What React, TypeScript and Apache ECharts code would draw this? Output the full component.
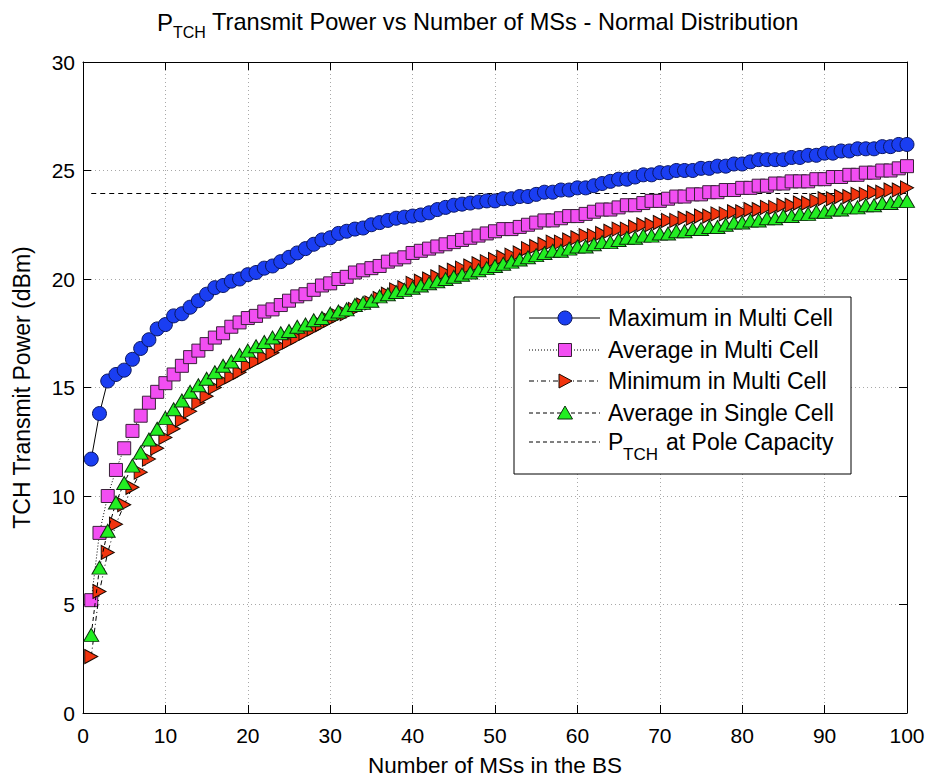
import React, { useEffect, useRef } from "react";
import * as echarts from "echarts";

const FONT = "'Liberation Sans', Arial, Helvetica, sans-serif";

// Number of MSs in the BS (x positions)
const msCounts: number[] = Array.from({ length: 100 }, (_, i) => i + 1);

const xTicks = { min: 0, max: 100, interval: 10 };
const yTicks = { min: 0, max: 30, interval: 5 };

const maxMulti: number[] = [
  11.7, 13.8, 15.3, 15.6, 15.8, 16.3, 16.8, 17.2, 17.7, 17.9,
  18.3, 18.4, 18.7, 19.0, 19.3, 19.6, 19.7, 19.9, 20.0, 20.2,
  20.3, 20.5, 20.6, 20.8, 21.0, 21.2, 21.4, 21.6, 21.8, 21.9,
  22.1, 22.2, 22.3, 22.35, 22.5, 22.6, 22.7, 22.8, 22.85, 22.9,
  22.95, 23.05, 23.2, 23.3, 23.4, 23.45, 23.5, 23.55, 23.6, 23.6,
  23.7, 23.7, 23.8, 23.8, 23.9, 24.0, 24.0, 24.1, 24.1, 24.2,
  24.2, 24.3, 24.4, 24.5, 24.6, 24.6, 24.7, 24.8, 24.8, 24.9,
  24.9, 25.0, 25.0, 25.0, 25.1, 25.1, 25.2, 25.2, 25.3, 25.3,
  25.4, 25.5, 25.5, 25.5, 25.5, 25.6, 25.6, 25.7, 25.7, 25.8,
  25.8, 25.9, 25.9, 26.0, 26.0, 26.0, 26.1, 26.1, 26.2, 26.2,
];

const avgMulti: number[] = [
  5.2, 8.3, 10.0, 11.2, 12.2, 13.0, 13.7, 14.3, 14.8, 15.2,
  15.6, 16.0, 16.4, 16.7, 17.0, 17.3, 17.5, 17.8, 18.0, 18.2,
  18.3, 18.5, 18.6, 18.8, 19.0, 19.2, 19.3, 19.5, 19.7, 19.8,
  20.0, 20.1, 20.3, 20.4, 20.5, 20.6, 20.8, 20.9, 21.0, 21.2,
  21.3, 21.4, 21.5, 21.6, 21.7, 21.8, 21.9, 22.0, 22.1, 22.2,
  22.3, 22.3, 22.4, 22.5, 22.6, 22.7, 22.7, 22.8, 22.9, 22.9,
  23.0, 23.1, 23.2, 23.2, 23.3, 23.4, 23.4, 23.5, 23.6, 23.6,
  23.7, 23.8, 23.8, 23.9, 23.9, 24.0, 24.0, 24.1, 24.1, 24.2,
  24.2, 24.3, 24.3, 24.4, 24.4, 24.5, 24.5, 24.5, 24.6, 24.6,
  24.7, 24.7, 24.8, 24.8, 24.9, 24.9, 25.0, 25.0, 25.1, 25.2,
];

const minMulti: number[] = [
  2.6, 5.6, 7.4, 8.7, 9.6, 10.4, 11.1, 11.7, 12.2, 12.7,
  13.1, 13.5, 13.9, 14.3, 14.6, 15.0, 15.3, 15.5, 15.7, 16.0,
  16.2, 16.4, 16.6, 16.9, 17.1, 17.3, 17.5, 17.7, 17.9, 18.1,
  18.3, 18.4, 18.6, 18.8, 18.9, 19.1, 19.3, 19.5, 19.6, 19.8,
  19.9, 20.0, 20.1, 20.3, 20.4, 20.5, 20.6, 20.7, 20.8, 20.9,
  21.0, 21.1, 21.2, 21.4, 21.5, 21.6, 21.7, 21.7, 21.8, 21.9,
  22.0, 22.0, 22.1, 22.2, 22.3, 22.3, 22.4, 22.5, 22.5, 22.6,
  22.7, 22.7, 22.8, 22.8, 22.9, 22.9, 23.0, 23.0, 23.1, 23.1,
  23.2, 23.2, 23.3, 23.3, 23.4, 23.4, 23.5, 23.5, 23.6, 23.7,
  23.7, 23.8, 23.8, 23.9, 23.9, 24.0, 24.0, 24.1, 24.1, 24.2,
];

const avgSingle: number[] = [
  3.6, 6.7, 8.4, 9.7, 10.6, 11.4, 12.0, 12.6, 13.1, 13.6,
  14.0, 14.4, 14.8, 15.1, 15.4, 15.7, 16.0, 16.2, 16.5, 16.7,
  16.9, 17.1, 17.3, 17.5, 17.6, 17.8, 17.9, 18.1, 18.2, 18.4,
  18.5, 18.6, 18.8, 18.9, 19.0, 19.2, 19.3, 19.4, 19.5, 19.6,
  19.7, 19.8, 19.9, 20.0, 20.1, 20.2, 20.3, 20.4, 20.5, 20.6,
  20.7, 20.8, 20.9, 21.0, 21.1, 21.2, 21.3, 21.3, 21.4, 21.5,
  21.5, 21.6, 21.7, 21.7, 21.8, 21.9, 21.9, 22.0, 22.0, 22.1,
  22.1, 22.2, 22.2, 22.3, 22.3, 22.4, 22.4, 22.5, 22.6, 22.6,
  22.7, 22.7, 22.8, 22.8, 22.9, 22.9, 23.0, 23.0, 23.1, 23.1,
  23.2, 23.2, 23.3, 23.3, 23.4, 23.4, 23.5, 23.5, 23.6, 23.6,
];

const poleCapacity = 23.94;
const poleRange: number[] = [1, 100];

const legendLabels = [
  "Maximum in Multi Cell",
  "Average in Multi Cell",
  "Minimum in Multi Cell",
  "Average in Single Cell",
];

const COLORS = {
  blue: "#1a3ef2",
  blueEdge: "#0a1660",
  pink: "#f24ef2",
  pinkEdge: "#3a203a",
  red: "#f2340e",
  redEdge: "#1a0a00",
  green: "#22ee22",
  greenEdge: "#0c300c",
};

const RIGHT_TRI = "path://M0,0 L10,5.5 L0,11 Z";
const UP_TRI = "path://M6,0 L12,10 L0,10 Z";

function pairs(ys: number[]) {
  return msCounts.map((x, i) => [x, ys[i]]);
}

export default function App() {
  const ref = useRef<HTMLDivElement>(null);

  useEffect(() => {
    if (!ref.current) return;
    const chart = echarts.init(ref.current, undefined, { renderer: "svg" });

    const axisCommon = {
      type: "value" as const,
      axisLine: { show: true, onZero: false, lineStyle: { color: "#000", width: 1 } },
      axisTick: { show: true, inside: true, length: 8, lineStyle: { color: "#000" } },
    };

    // legend geometry
    const lgX = 514, lgY = 297, lgW = 337, lgH = 177;
    const rowsY = [318, 350, 381, 413, 442];
    const sx1 = 529, sx2 = 600, mx = 565, tx = 608;
    const lineDashes: any[] = [null, [1, 2], [5, 3, 1, 3], [4, 3], [4, 3]];

    const graphics: any[] = [
      // title
      {
        type: "text", x: 157, y: 22, z: 100,
        style: { text: "P", font: `24px ${FONT}`, fill: "#000", verticalAlign: "middle", textAlign: "left" },
      },
      {
        type: "text", x: 173, y: 32, z: 100,
        style: { text: "TCH", font: `16px ${FONT}`, fill: "#000", verticalAlign: "middle", textAlign: "left" },
      },
      {
        type: "text", x: 212, y: 22, z: 100,
        style: { text: "Transmit Power vs Number of MSs - Normal Distribution", font: `23.6px ${FONT}`, fill: "#000", verticalAlign: "middle", textAlign: "left" },
      },
      // legend box
      {
        type: "rect", z: 100,
        shape: { x: lgX, y: lgY, width: lgW, height: lgH },
        style: { fill: "#fff", stroke: "#000", lineWidth: 1 },
      },
    ];

    rowsY.forEach((ry, i) => {
      const ln: any = {
        type: "line", z: 101,
        shape: { x1: sx1, y1: ry, x2: sx2, y2: ry },
        style: { stroke: "#000", lineWidth: 1 },
      };
      if (lineDashes[i]) ln.style.lineDash = lineDashes[i];
      graphics.push(ln);
    });

    graphics.push(
      {
        type: "circle", z: 102, shape: { cx: mx, cy: rowsY[0], r: 7 },
        style: { fill: COLORS.blue, stroke: COLORS.blueEdge, lineWidth: 1 },
      },
      {
        type: "rect", z: 102, shape: { x: mx - 6.5, y: rowsY[1] - 6.5, width: 13, height: 13 },
        style: { fill: COLORS.pink, stroke: COLORS.pinkEdge, lineWidth: 1 },
      },
      {
        type: "polygon", z: 102, shape: { points: [[mx - 6, rowsY[2] - 7], [mx + 7, rowsY[2]], [mx - 6, rowsY[2] + 7]] },
        style: { fill: COLORS.red, stroke: COLORS.redEdge, lineWidth: 1 },
      },
      {
        type: "polygon", z: 102, shape: { points: [[mx, rowsY[3] - 7], [mx + 7.5, rowsY[3] + 6], [mx - 7.5, rowsY[3] + 6]] },
        style: { fill: COLORS.green, stroke: COLORS.greenEdge, lineWidth: 1 },
      }
    );

    legendLabels.forEach((lab, i) => {
      graphics.push({
        type: "text", x: tx, y: rowsY[i], z: 103,
        style: { text: lab, font: `23px ${FONT}`, fill: "#000", verticalAlign: "middle", textAlign: "left" },
      });
    });
    graphics.push(
      {
        type: "text", x: tx, y: rowsY[4], z: 103,
        style: { text: "P", font: `23px ${FONT}`, fill: "#000", verticalAlign: "middle", textAlign: "left" },
      },
      {
        type: "text", x: tx + 15, y: rowsY[4] + 12, z: 103,
        style: { text: "TCH", font: `17px ${FONT}`, fill: "#000", verticalAlign: "middle", textAlign: "left" },
      },
      {
        type: "text", x: tx + 58, y: rowsY[4], z: 103,
        style: { text: "at Pole Capacity", font: `23px ${FONT}`, fill: "#000", verticalAlign: "middle", textAlign: "left" },
      }
    );

    const option: any = {
      animation: false,
      backgroundColor: "#fff",
      grid: { left: 83, right: 21, top: 62, bottom: 65, containLabel: false, outerBoundsMode: "none" },
      xAxis: [
        {
          ...axisCommon,
          position: "bottom",
          min: xTicks.min, max: xTicks.max, interval: xTicks.interval,
          axisLabel: { color: "#000", fontSize: 21, margin: 12, fontFamily: FONT },
          splitLine: { show: true, lineStyle: { color: "#a8a8a8", type: [1, 3], width: 1 } },
          name: "Number of MSs in the BS",
          nameLocation: "middle",
          nameGap: 41,
          nameTextStyle: { color: "#000", fontSize: 22.5, fontFamily: FONT },
        },
        {
          ...axisCommon,
          position: "top",
          min: xTicks.min, max: xTicks.max, interval: xTicks.interval,
          axisLabel: { show: false },
          splitLine: { show: false },
        },
      ],
      yAxis: [
        {
          ...axisCommon,
          position: "left",
          min: yTicks.min, max: yTicks.max, interval: yTicks.interval,
          axisLabel: { color: "#000", fontSize: 21, margin: 8, fontFamily: FONT },
          splitLine: { show: true, lineStyle: { color: "#a8a8a8", type: [1, 3], width: 1 } },
          name: "TCH Transmit Power (dBm)",
          nameLocation: "middle",
          nameGap: 50,
          nameRotate: 90,
          nameTextStyle: { color: "#000", fontSize: 23, fontFamily: FONT },
        },
        {
          ...axisCommon,
          position: "right",
          min: yTicks.min, max: yTicks.max, interval: yTicks.interval,
          axisLabel: { show: false },
          splitLine: { show: false },
        },
      ],
      series: [
        {
          name: "P_TCH at Pole Capacity",
          type: "line",
          z: 1,
          data: poleRange.map((x) => [x, poleCapacity]),
          symbol: "none",
          lineStyle: { color: "#000", width: 1, type: [5, 4] },
          silent: true,
        },
        {
          name: legendLabels[0],
          type: "line",
          z: 2,
          data: pairs(maxMulti),
          symbol: "circle",
          symbolSize: 14,
          showAllSymbol: true,
          lineStyle: { color: "#000", width: 1, type: "solid" },
          itemStyle: { color: COLORS.blue, borderColor: COLORS.blueEdge, borderWidth: 1 },
        },
        {
          name: legendLabels[1],
          type: "line",
          z: 3,
          data: pairs(avgMulti),
          symbol: "rect",
          symbolSize: 13,
          showAllSymbol: true,
          lineStyle: { color: "#000", width: 1, type: [1, 2] },
          itemStyle: { color: COLORS.pink, borderColor: COLORS.pinkEdge, borderWidth: 1 },
        },
        {
          name: legendLabels[2],
          type: "line",
          z: 4,
          data: pairs(minMulti),
          symbol: RIGHT_TRI,
          symbolSize: [13, 14],
          showAllSymbol: true,
          lineStyle: { color: "#000", width: 1, type: [5, 3, 1, 3] },
          itemStyle: { color: COLORS.red, borderColor: COLORS.redEdge, borderWidth: 1 },
        },
        {
          name: legendLabels[3],
          type: "line",
          z: 5,
          data: pairs(avgSingle),
          symbol: UP_TRI,
          symbolSize: [15, 13],
          showAllSymbol: true,
          lineStyle: { color: "#000", width: 1, type: [4, 3] },
          itemStyle: { color: COLORS.green, borderColor: COLORS.greenEdge, borderWidth: 1 },
        },
      ],
      graphic: graphics,
    };

    chart.setOption(option);
    return () => chart.dispose();
  }, []);

  return (
    <div
      ref={ref}
      style={{ position: "absolute", left: 0, top: 0, width: 928, height: 778, background: "#fff" }}
    />
  );
}
